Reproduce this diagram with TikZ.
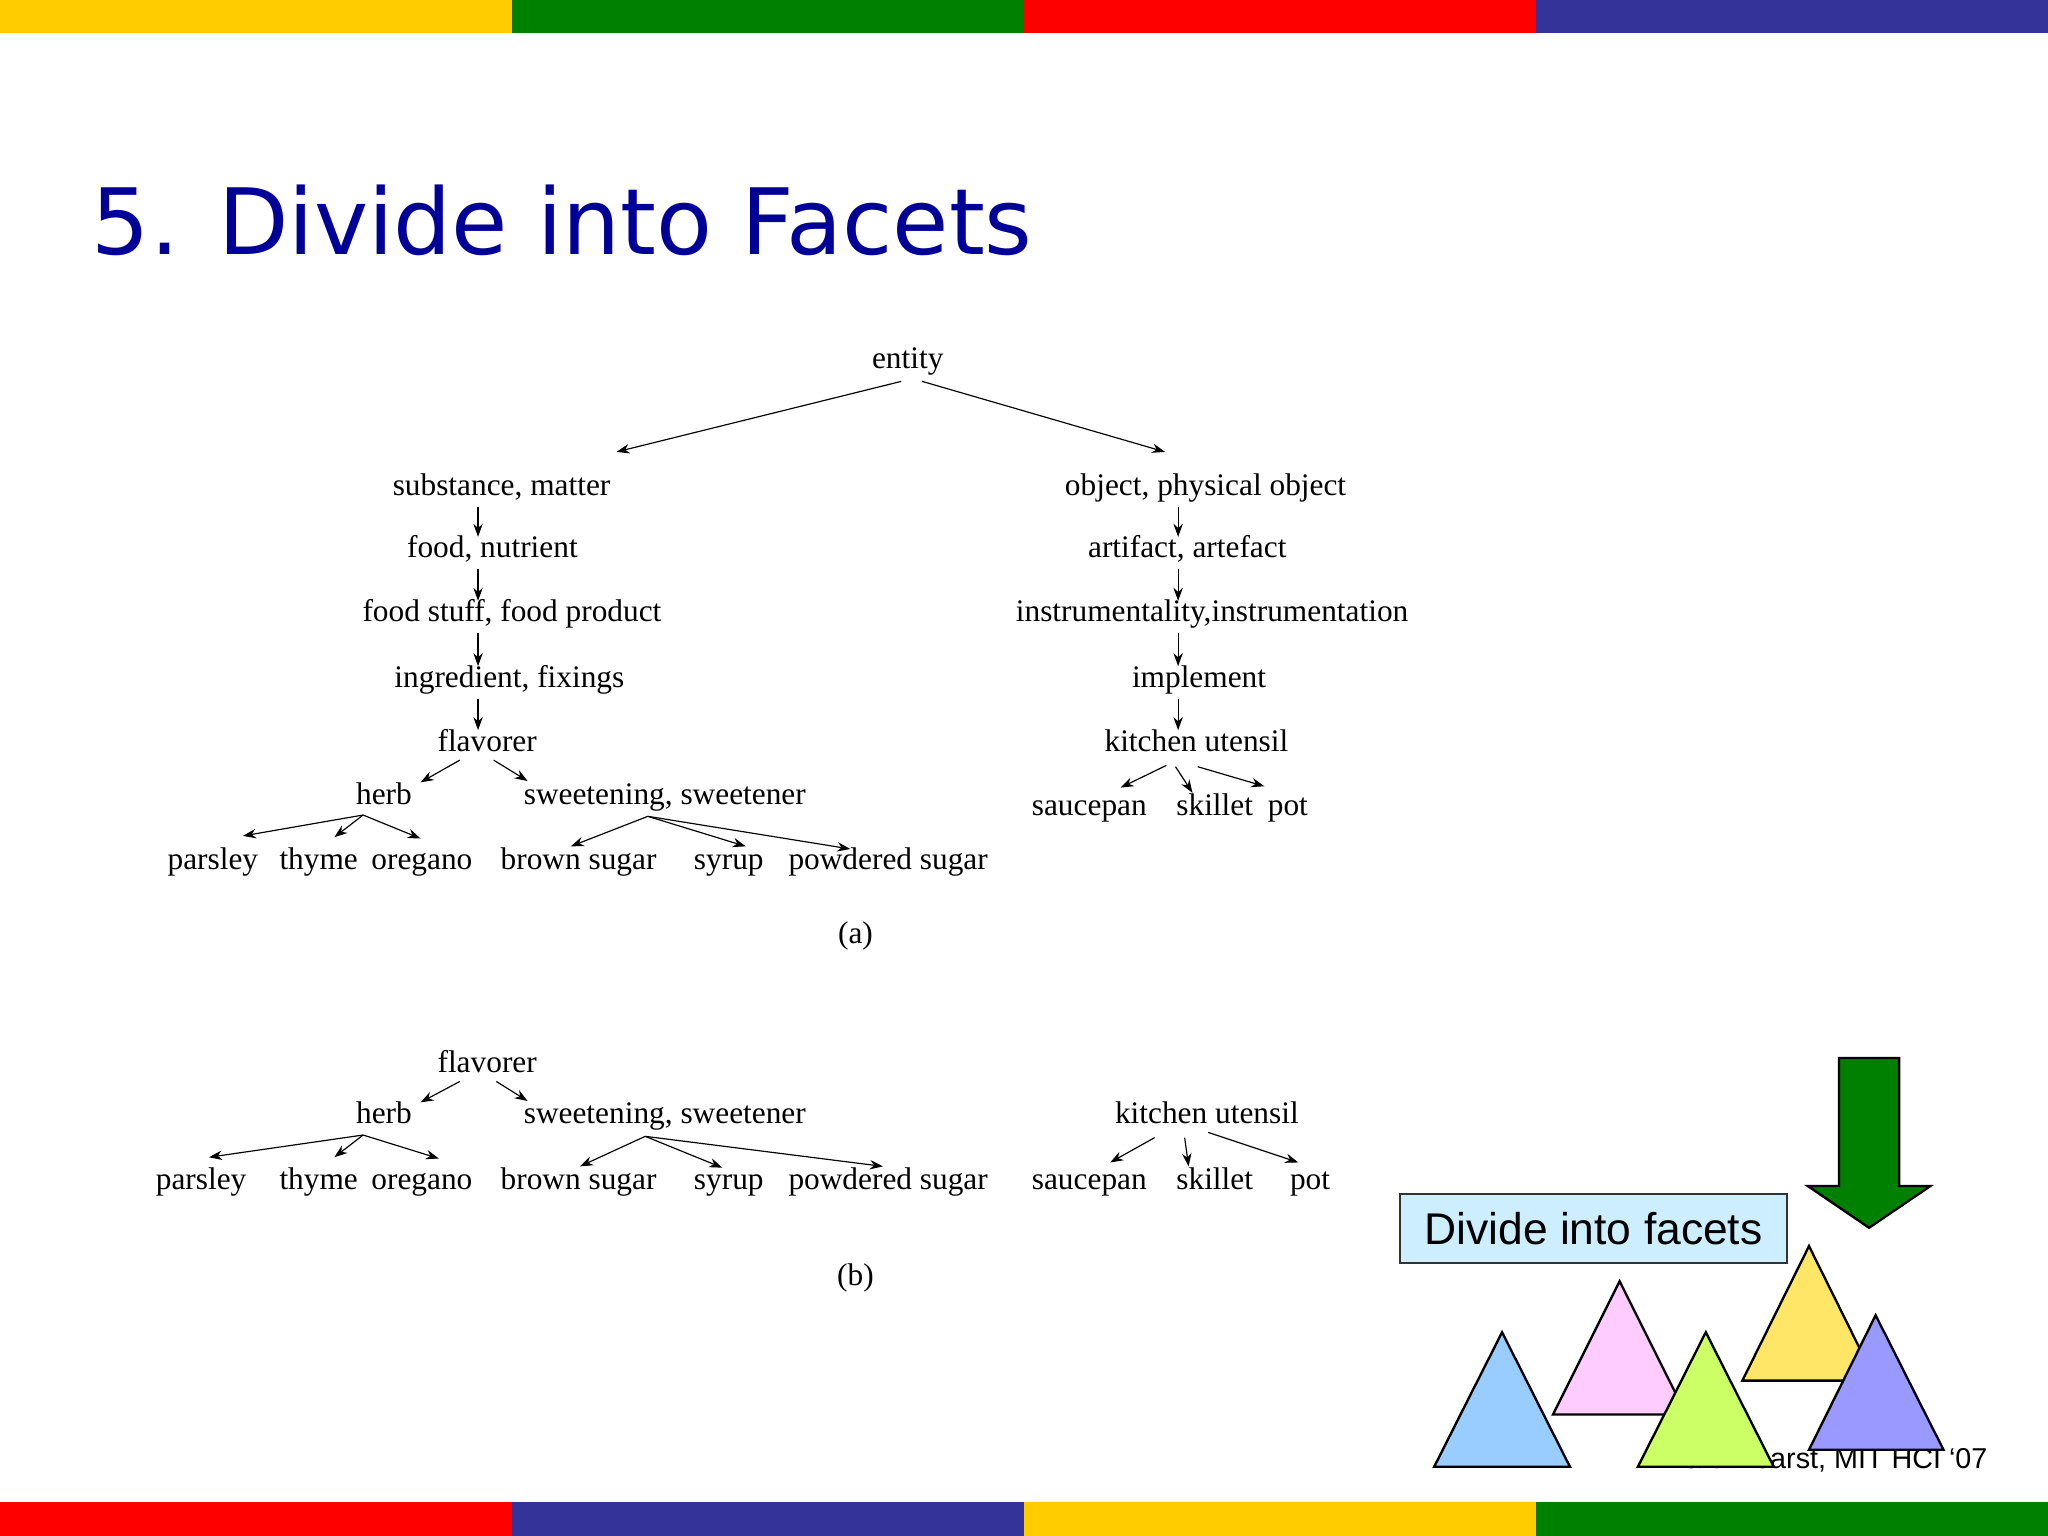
\documentclass[tikz,border=0pt]{standalone}
\usepackage{fontspec}
\setmainfont{Liberation Serif}
\newfontfamily\tah{DejaVu Sans}
\newfontfamily\ar{Liberation Sans}
\usetikzlibrary{arrows.meta}
\definecolor{cy}{RGB}{255,204,0}
\definecolor{cg}{RGB}{0,128,0}
\definecolor{cr}{RGB}{255,0,0}
\definecolor{cb}{RGB}{51,51,153}
\definecolor{ttl}{RGB}{0,0,153}
\begin{document}
\begin{tikzpicture}[x=0.5pt,y=-0.5pt,
  t/.style={font=\fontsize{12}{13}\selectfont,inner sep=0pt,text height=8.5pt,text depth=2.5pt},
  ar/.style={-{Stealth[length=5pt,width=3.6pt]},line width=0.45pt},
  tri/.style={draw=black,line width=0.9pt}]
\useasboundingbox (0,0) rectangle (1568,1176);
\fill[white] (0,0) rectangle (1568,1176);
% bars
\fill[cy] (0,0) rectangle (392,25);
\fill[cg] (392,0) rectangle (784,25);
\fill[cr] (784,0) rectangle (1176,25);
\fill[cb] (1176,0) rectangle (1568,25);
\fill[cr] (0,1150) rectangle (392,1176);
\fill[cb] (392,1150) rectangle (784,1176);
\fill[cy] (784,1150) rectangle (1176,1176);
\fill[cg] (1176,1150) rectangle (1568,1176);
% title
\node[anchor=base west,inner sep=0,text=ttl] (title) at (70,195)
  {\resizebox{360pt}{!}{\tah 5. Divide into Facets}};
% tree (a)
\node[t] (entity) at (695,276) {entity};
\node[t] (subst) at (384,373) {substance, matter};
\node[t] (obj) at (923,373) {object, physical object};
\node[t] (food) at (377,421) {food, nutrient};
\node[t] (artf) at (909,421) {artifact, artefact};
\node[t] (fstuff) at (392,470) {food stuff, food product};
\node[t] (instr) at (928,470) {instrumentality,instrumentation};
\node[t] (ingr) at (390,520) {ingredient, fixings};
\node[t] (impl) at (918,520) {implement};
\node[t] (flav) at (373,569) {flavorer};
\node[t] (kit) at (916,569) {kitchen utensil};
\node[t] (herb) at (294,610) {herb};
\node[t] (sweet) at (509,610) {sweetening, sweetener};
\node[t] (sauce) at (834,618) {saucepan};
\node[t] (skil) at (930,618) {skillet};
\node[t] (pot) at (986,618) {pot};
\node[t] (pars) at (163,660) {parsley};
\node[t] (thym) at (244,660) {thyme};
\node[t] (oreg) at (323,660) {oregano};
\node[t] (brown) at (443,660) {brown sugar};
\node[t] (syrup) at (558,660) {syrup};
\node[t] (powd) at (680,660) {powdered sugar};
\node[t] (capa) at (655,716) {(a)};
\draw[ar] (690,292) -- (472,346);
\draw[ar] (706,292) -- (892,346);
\foreach \y/\z in {388/411,436/460,485/510,535/559}{
  \draw[ar] (366,\y) -- (366,\z);
  \draw[ar] (902,\y) -- (902,\z);}
\draw[ar] (352,582) -- (322,599);
\draw[ar] (378,582) -- (404,598);
\draw[ar] (278,624) -- (186,640);
\draw[ar] (278,624) -- (256,641);
\draw[ar] (278,624) -- (322,642);
\draw[ar] (496,625) -- (437,648);
\draw[ar] (496,625) -- (571,648);
\draw[ar] (496,625) -- (651,650);
\draw[ar] (893,586) -- (858,603);
\draw[ar] (900,587) -- (913,607);
\draw[ar] (917,587) -- (968,602);
% tree (b)
\node[t] (flav2) at (373,815) {flavorer};
\node[t] (herb2) at (294,854) {herb};
\node[t] (sweet2) at (509,854) {sweetening, sweetener};
\node[t] (pars2) at (154,905) {parsley};
\node[t] (thym2) at (244,905) {thyme};
\node[t] (oreg2) at (323,905) {oregano};
\node[t] (brown2) at (443,905) {brown sugar};
\node[t] (syrup2) at (558,905) {syrup};
\node[t] (powd2) at (680,905) {powdered sugar};
\node[t] (kit2) at (924,854) {kitchen utensil};
\node[t] (sauce2) at (834,905) {saucepan};
\node[t] (skil2) at (930,905) {skillet};
\node[t] (pot2) at (1003,905) {pot};
\node[t] (capb) at (655,978) {(b)};
\draw[ar] (352,828) -- (322,844);
\draw[ar] (380,828) -- (404,843);
\draw[ar] (278,869) -- (160,886);
\draw[ar] (278,869) -- (256,886);
\draw[ar] (278,869) -- (336,887);
\draw[ar] (494,870) -- (444,893);
\draw[ar] (494,870) -- (553,894);
\draw[ar] (494,870) -- (676,893);
\draw[ar] (884,871) -- (850,890);
\draw[ar] (907,871) -- (910,893);
\draw[ar] (925,867) -- (994,890);
% right bottom
\draw[fill=cg,line width=0.9pt] (1408,810) -- (1454,810) -- (1454,908) -- (1478,908)
  -- (1431,940) -- (1384,908) -- (1408,908) -- cycle;
\node[draw=black!80,line width=0.9pt,fill={rgb,255:red,204;green,238;blue,255},
  minimum width=148pt,minimum height=26.5pt,inner sep=0,
  font=\ar\fontsize{17}{18}\selectfont] (box) at (1220,940.5) {Divide into facets};
\node[anchor=base east,inner sep=0,font=\ar\fontsize{11}{12}\selectfont] (cred) at (1522,1124) {Marti Hearst, MIT HCI ‘07};
\draw[tri,fill={rgb,255:red,153;green,204;blue,255}] (1098,1123) -- (1202,1123) -- (1150,1020) -- cycle;
\draw[tri,fill={rgb,255:red,255;green,204;blue,255}] (1189,1083) -- (1291,1083) -- (1240,981) -- cycle;
\draw[tri,fill={rgb,255:red,255;green,230;blue,102}] (1334,1057) -- (1436,1057) -- (1385,954) -- cycle;
\draw[tri,fill={rgb,255:red,204;green,255;blue,102}] (1254,1123) -- (1358,1123) -- (1306,1020) -- cycle;
\draw[tri,fill={rgb,255:red,153;green,153;blue,255}] (1385,1110) -- (1488,1110) -- (1436,1007) -- cycle;
\end{tikzpicture}
\end{document}
